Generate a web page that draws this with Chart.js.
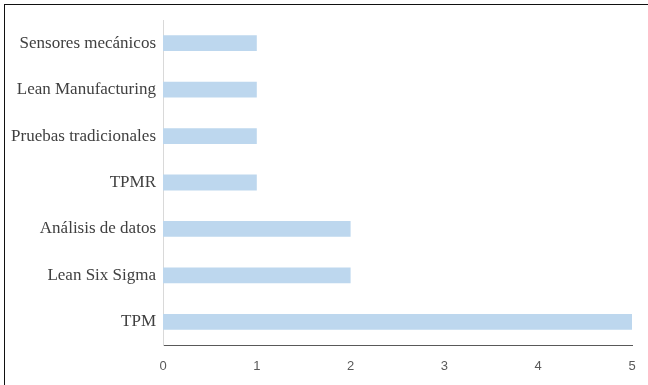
<!DOCTYPE html>
<html lang="es">
<head>
  <meta charset="UTF-8" />
  <title>Herramientas</title>
  <script src="https://cdn.jsdelivr.net/npm/chart.js"></script>
  <style>
    html, body { margin: 0; padding: 0; background: #fff; }
    .wrap { position: relative; width: 648px; height: 385px; overflow: hidden; }
    .frame { position: absolute; left: 4px; top: 4px; width: 700px; height: 420px;
             border: 1px solid #111; pointer-events: none; }
  </style>
</head>
<body>
  <div class="wrap">
    <canvas id="chart" width="648" height="385"></canvas>
    <div class="frame"></div>
  </div>

  <script>
    const categories = [
      "Sensores mecánicos",
      "Lean Manufacturing",
      "Pruebas tradicionales",
      "TPMR",
      "Análisis de datos",
      "Lean Six Sigma",
      "TPM"
    ];
    const values = [1, 1, 1, 1, 2, 2, 5];
    const xTicks = [0, 1, 2, 3, 4, 5];

    const ctx = document.getElementById("chart").getContext("2d");
    new Chart(ctx, {
      type: "bar",
      data: {
        labels: categories,
        datasets: [{
          data: values,
          backgroundColor: "#BDD7EE",
          borderWidth: 0,
          categoryPercentage: 1,
          barPercentage: 0.34
        }]
      },
      options: {
        indexAxis: "y",
        responsive: false,
        animation: false,
        layout: { padding: { top: 20, right: 16, bottom: 0, left: 0 } },
        plugins: { legend: { display: false }, tooltip: { enabled: false } },
        scales: {
          x: {
            min: 0,
            max: 5,
            afterBuildTicks: axis => { axis.ticks = xTicks.map(v => ({ value: v })); },
            afterFit: axis => {
              axis.height = 40;
              axis.paddingLeft = 0;
              axis.paddingRight = 0;
            },
            grid: { display: false, drawTicks: false },
            border: { display: true, color: "#595959", width: 1 },
            ticks: {
              padding: 14,
              color: "#595959",
              font: { family: "Liberation Sans", size: 13 }
            }
          },
          y: {
            afterFit: axis => { axis.width = 163; },
            grid: { display: false, drawTicks: false },
            border: { display: true, color: "#d9d9d9", width: 1 },
            ticks: {
              padding: 7,
              color: "#404040",
              font: { family: "Liberation Serif", size: 17 }
            }
          }
        }
      }
    });
  </script>
</body>
</html>
